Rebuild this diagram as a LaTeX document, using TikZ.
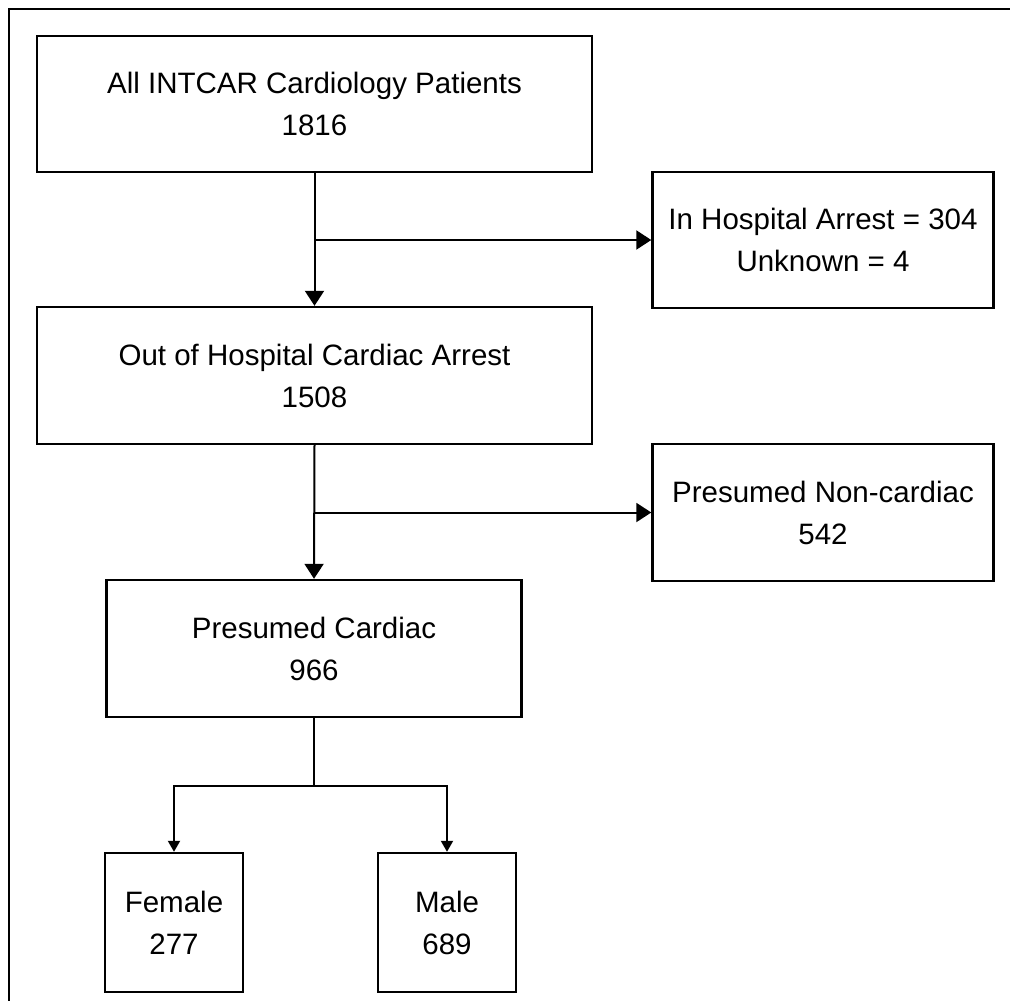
\documentclass[tikz,border=0pt]{standalone}
\usepackage{fontspec}
\setmainfont{Liberation Sans}
\usetikzlibrary{arrows.meta}
\begin{document}
\begin{tikzpicture}[x=1pt,y=-1pt,
  boxnode/.style={draw=black,line width=2.4pt,rectangle,align=center,inner sep=0pt,
    font=\fontsize{29.5}{42}\selectfont},
  conn/.style={line width=2pt},
  arr/.style={conn,-{Triangle[length=15pt,width=19pt]}},
  arrsmall/.style={conn,-{Triangle[length=11pt,width=12pt]}}]
\useasboundingbox (0,0) rectangle (1010,1001);
\draw[line width=2.2pt] (9,1001) -- (9,9) -- (1010,9);
\node[boxnode,minimum width=555pt,minimum height=136pt] (b1) at (314.5,104) {All INTCAR Cardiology Patients\\1816};
\node[boxnode,minimum width=555pt,minimum height=137pt] (b2) at (314.5,375.5) {Out of Hospital Cardiac Arrest\\1508};
\node[boxnode,minimum width=341pt,minimum height=136pt] (b3) at (823,240) {In Hospital Arrest = 304\\Unknown = 4};
\node[boxnode,minimum width=341pt,minimum height=137pt] (b4) at (823,512.5) {Presumed Non-cardiac\\542};
\node[boxnode,minimum width=415pt,minimum height=137pt] (b5) at (314,648.5) {Presumed Cardiac\\966};
\node[boxnode,minimum width=138pt,minimum height=139pt] (fem) at (174,922.5) {Female\\277};
\node[boxnode,minimum width=138pt,minimum height=139pt] (male) at (447,922.5) {Male\\689};
\coordinate (sp) at (314,786);
\draw[arr] (b1.south) -- (b2.north);
\draw[arr] (b1.south |- b3.west) -- (b3.west);
\draw[arr] (b2.south) -- (b5.north);
\draw[arr] (b2.south |- b4.west) -- (b4.west);
\draw[conn] (b5.south) -- (sp);
\draw[arrsmall] (sp) -| (fem.north);
\draw[arrsmall] (sp) -| (male.north);
\end{tikzpicture}
\end{document}
